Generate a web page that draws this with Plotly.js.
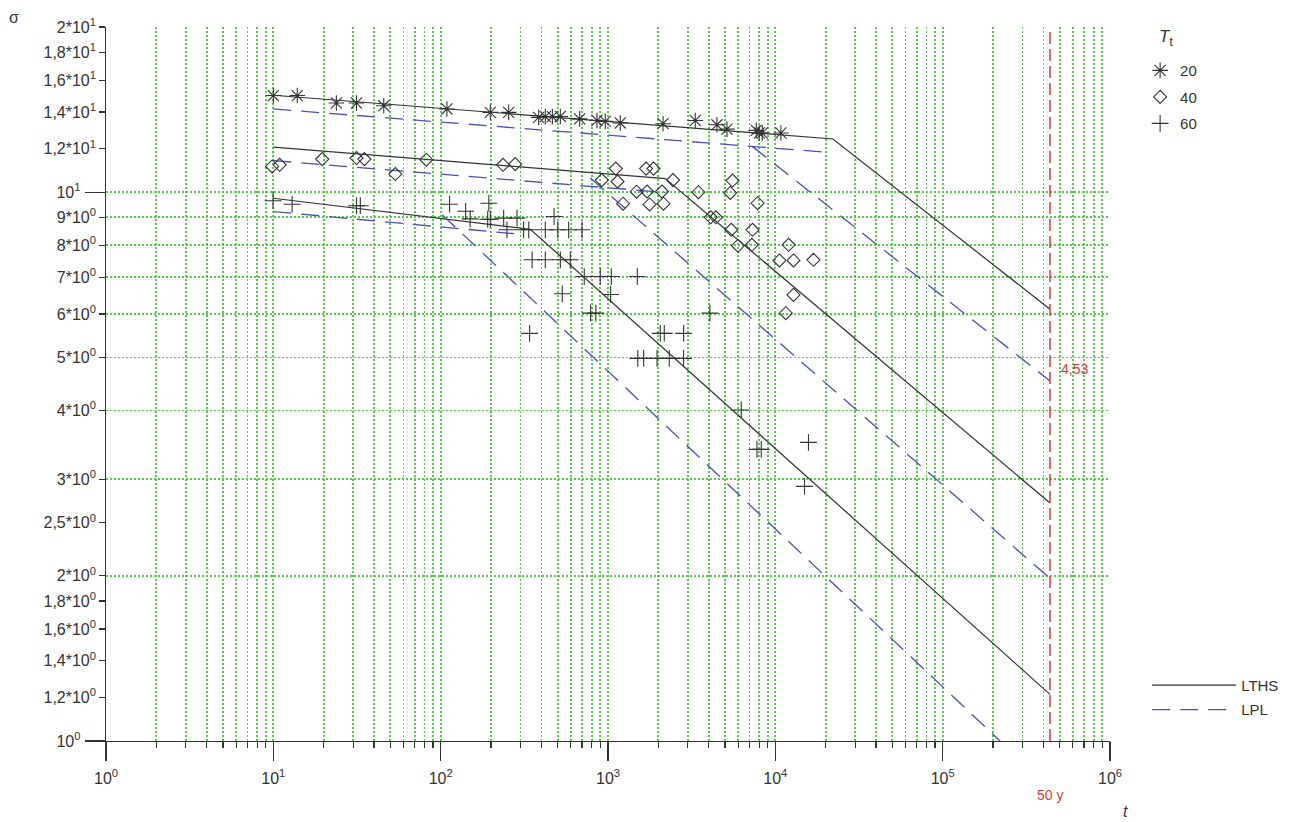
<!DOCTYPE html>
<html>
<head>
<meta charset="utf-8">
<script src="https://cdn.plot.ly/plotly-3.0.1.min.js"></script>
<style>
  html, body { margin: 0; padding: 0; background: #fff; }
  #chart { width: 1293px; height: 822px; }
</style>
</head>
<body>
<div id="chart"></div>
<script>
// ---- data (time t in h, stress sigma) ----
const t20 = [10, 13.9, 23.8, 31.4, 45.7, 109, 198, 255, 385, 422, 465, 519, 677, 859, 963, 1184, 2132, 3322, 4477, 5140, 7690, 8016, 8356, 10800];
const s20 = [15.0, 15.0, 14.54, 14.54, 14.37, 14.18, 13.98, 13.98, 13.69, 13.73, 13.73, 13.74, 13.6, 13.51, 13.46, 13.37, 13.33, 13.51, 13.27, 13.03, 12.96, 12.82, 12.82, 12.82];

const t40 = [9.84, 10.9, 19.6, 31.4, 35.0, 53.6, 82.1, 236, 279, 918, 1113, 1140, 1231, 1482, 1689, 1870, 1712, 2101, 1773, 2146, 2445, 3472, 5546, 5380, 7830, 4110, 4415, 5453, 7305, 5980, 7244, 12000, 10590, 12840, 16900, 12840, 11560];
const s40 = [11.14, 11.22, 11.49, 11.54, 11.49, 10.79, 11.46, 11.22, 11.25, 10.52, 11.04, 10.46, 9.53, 10.02, 11.04, 11.04, 10.03, 10.03, 9.50, 9.53, 10.52, 10.0, 10.50, 9.97, 9.55, 9.0, 9.0, 8.54, 8.54, 7.99, 8.02, 8.02, 7.51, 7.51, 7.53, 6.50, 6.02];

const t60 = [9.97, 12.95, 31.4, 33.1, 113, 194, 141, 150, 191, 198, 238, 286, 476, 249, 313, 336, 422, 501, 582, 700, 352, 422, 519, 595, 721, 899, 1047, 1497, 533, 1037, 787, 846, 4064, 340, 2053, 2169, 2830, 1507, 1633, 1963, 2323, 2830, 6256, 7766, 8238, 15780, 14940];
const s60 = [9.65, 9.51, 9.45, 9.45, 9.51, 9.55, 9.23, 8.94, 8.93, 8.93, 8.97, 8.97, 9.03, 8.54, 8.54, 8.54, 8.54, 8.54, 8.54, 8.54, 7.53, 7.53, 7.53, 7.53, 7.02, 7.02, 7.02, 7.02, 6.53, 6.51, 6.02, 6.02, 6.02, 5.53, 5.53, 5.53, 5.53, 4.98, 4.98, 4.98, 4.98, 4.98, 4.01, 3.40, 3.40, 3.50, 2.91];

// LTHS (solid) and LPL (dashed) lines
const fiftyYears = 438000;
const lths20_t = [10, 22080, fiftyYears],  lths20_s = [15.02, 12.50, 6.12];
const lths40_t = [10, 2199, fiftyYears],   lths40_s = [12.08, 10.59, 2.714];
const lths60_t = [10, 343.6, fiftyYears],  lths60_s = [9.75, 8.56, 1.216];
const lpl20a_t = [10, 21280],  lpl20a_s = [14.18, 11.81];
const lpl20b_t = [7280, fiftyYears], lpl20b_s = [12.12, 4.53];
const lpl40a_t = [10, 2199],   lpl40a_s = [11.42, 9.99];
const lpl40b_t = [784, fiftyYears],  lpl40b_s = [10.61, 1.978];
const lpl60a_t = [10, 290],    lpl60a_s = [9.22, 8.39];
const lpl60b_t = [102, 220400],    lpl60b_s = [9.1, 1.0];
const redLine_t = [fiftyYears, fiftyYears], redLine_s = [1, 20];
const lplAt50 = 4.53;

// tick labels
const xTickVals = [1, 10, 100, 1000, 10000, 100000, 1000000];
const xTickText = ['10<sup>0</sup>', '10<sup>1</sup>', '10<sup>2</sup>', '10<sup>3</sup>', '10<sup>4</sup>', '10<sup>5</sup>', '10<sup>6</sup>'];
const yMajorVals = [1, 10];
const yMajorText = ['10<sup>0</sup>', '10<sup>1</sup>'];
const yTickVals = [1.2, 1.4, 1.6, 1.8, 2, 2.5, 3, 4, 5, 6, 7, 8, 9, 12, 14, 16, 18, 20];
const yTickText = ['1,2*10<sup>0</sup>', '1,4*10<sup>0</sup>', '1,6*10<sup>0</sup>', '1,8*10<sup>0</sup>', '2*10<sup>0</sup>', '2,5*10<sup>0</sup>', '3*10<sup>0</sup>', '4*10<sup>0</sup>', '5*10<sup>0</sup>', '6*10<sup>0</sup>', '7*10<sup>0</sup>', '8*10<sup>0</sup>', '9*10<sup>0</sup>', '1,2*10<sup>1</sup>', '1,4*10<sup>1</sup>', '1,6*10<sup>1</sup>', '1,8*10<sup>1</sup>', '2*10<sup>1</sup>'];
const yGridVals = [2, 3, 4, 5, 6, 7, 8, 9, 10, 20];

// minor x ticks 2..9 of each decade
const xMinorVals = [];
for (let d = 0; d < 6; d++) for (let m = 2; m <= 9; m++) xMinorVals.push(m * Math.pow(10, d));

const GREEN = '#55cc4a';
const INK = '#333333';
const BLUE = '#4a50b4';
const RED = '#d43c3c';
const FONT = 'Liberation Sans, Arial, sans-serif';
const YRANGE = [0, Math.log10(20)];

function solid(t, s, show) {
  return {x: t, y: s, type: 'scatter', mode: 'lines', name: 'LTHS', legend: 'legend2',
    legendgroup: 'lths', showlegend: show, line: {color: INK, width: 1.2}, hoverinfo: 'skip'};
}
function dashed(t, s, show) {
  return {x: t, y: s, type: 'scatter', mode: 'lines', name: 'LPL', legend: 'legend2',
    legendgroup: 'lpl', showlegend: show, line: {color: BLUE, width: 1.3, dash: '18px,10px'}, hoverinfo: 'skip'};
}
function pts(t, s, name, symbol, size) {
  return {x: t, y: s, type: 'scatter', mode: 'markers', name: name, legendgroup: 'g' + name,
    marker: {symbol: symbol, size: size, color: INK, line: {color: INK, width: 1.1}}};
}
function ghost(axis) {
  return {x: [10], y: [10], yaxis: axis, type: 'scatter', mode: 'markers', showlegend: false,
    marker: {opacity: 0}, hoverinfo: 'skip'};
}

const traces = [
  solid(lths20_t, lths20_s, true), solid(lths40_t, lths40_s, false), solid(lths60_t, lths60_s, false),
  dashed(lpl20a_t, lpl20a_s, true), dashed(lpl20b_t, lpl20b_s, false),
  dashed(lpl40a_t, lpl40a_s, false), dashed(lpl40b_t, lpl40b_s, false),
  dashed(lpl60a_t, lpl60a_s, false), dashed(lpl60b_t, lpl60b_s, false),
  {x: redLine_t, y: redLine_s, type: 'scatter', mode: 'lines', showlegend: false,
   line: {color: RED, width: 1.5, dash: '12px,5px'}, hoverinfo: 'skip'},
  pts(t20, s20, '20', 'asterisk-open', 13),
  pts(t40, s40, '40', 'diamond-open', 10),
  pts(t60, s60, '60', 'cross-thin-open', 12),
  ghost('y2'), ghost('y3')
];

const gridCommon = {gridcolor: GREEN, gridwidth: 1.8, griddash: '2px,2px'};
const tickFont = {family: FONT, size: 16, color: INK};

const layout = {
  width: 1293, height: 822,
  margin: {l: 106, r: 183, t: 27, b: 81, pad: 0, autoexpand: false},
  paper_bgcolor: '#ffffff', plot_bgcolor: '#ffffff',
  font: {family: FONT, size: 15, color: INK},
  xaxis: Object.assign({
    type: 'log', range: [0, 6], tickmode: 'array', tickvals: xTickVals, ticktext: xTickText,
    ticks: 'outside', ticklen: 19, tickwidth: 1.2, tickcolor: INK, ticklabelstandoff: 3,
    showline: true, linecolor: INK, linewidth: 1.3, mirror: false, zeroline: false,
    showgrid: true,
    minor: Object.assign({tickmode: 'array', tickvals: xMinorVals, ticks: 'outside', ticklen: 6,
      tickwidth: 1.2, tickcolor: INK, showgrid: true}, gridCommon),
    tickfont: tickFont
  }, gridCommon),
  // main y: long ticks + labels at decades, short minor ticks at the other labelled values
  yaxis: {
    type: 'log', range: YRANGE, tickmode: 'array', tickvals: yMajorVals, ticktext: yMajorText,
    ticks: 'outside', ticklen: 20, tickwidth: 1.3, tickcolor: INK, ticklabelstandoff: 1,
    showline: true, linecolor: INK, linewidth: 1.3, mirror: false, zeroline: false, showgrid: false,
    minor: {tickmode: 'array', tickvals: yTickVals, ticks: 'outside', ticklen: 6, tickwidth: 1.2,
      tickcolor: INK, showgrid: false},
    tickfont: tickFont
  },
  // labels of the non-decade values
  yaxis2: {
    type: 'log', range: YRANGE, overlaying: 'y', side: 'left', anchor: 'x',
    tickmode: 'array', tickvals: yTickVals, ticktext: yTickText, showticklabels: true,
    ticks: '', ticklabelstandoff: 9, tickfont: tickFont,
    showline: false, zeroline: false, showgrid: false
  },
  // horizontal green grid
  yaxis3: Object.assign({
    type: 'log', range: YRANGE, overlaying: 'y', side: 'left', anchor: 'x',
    tickmode: 'array', tickvals: yGridVals, showticklabels: false, ticks: '',
    showline: false, zeroline: false, showgrid: true
  }, gridCommon),
  legend: {
    x: 1.03, y: 0.962, xanchor: 'left', yanchor: 'top',
    font: {family: FONT, size: 15, color: INK}, bgcolor: 'rgba(0,0,0,0)',
    tracegroupgap: 4, itemwidth: 30
  },
  legend2: {
    x: 1.037, y: 0.101, xanchor: 'left', yanchor: 'top',
    font: {family: FONT, size: 15, color: INK}, bgcolor: 'rgba(0,0,0,0)',
    tracegroupgap: 2, itemwidth: 84
  },
  annotations: [
    {text: '<i>T</i><sub>t</sub>', xref: 'paper', yref: 'paper', x: 1.047, y: 0.985,
     xanchor: 'left', yanchor: 'middle', showarrow: false,
     font: {family: FONT, size: 17, color: INK}},
    {text: 'σ', xref: 'paper', yref: 'paper', x: -0.0916, y: 1.014, xanchor: 'center', yanchor: 'middle',
     showarrow: false, font: {family: FONT, size: 16, color: INK}},
    {text: '<i>t</i>', xref: 'paper', yref: 'paper', x: 1.015, y: -0.0994, xanchor: 'center', yanchor: 'middle',
     showarrow: false, font: {family: FONT, size: 16, color: INK}},
    {text: '50 y', xref: 'x', yref: 'paper', x: Math.log10(fiftyYears), y: -0.0756,
     xanchor: 'center', yanchor: 'middle', showarrow: false,
     font: {family: FONT, size: 14, color: RED}},
    {text: String(lplAt50).replace('.', ','), xref: 'x', yref: 'y', x: Math.log10(fiftyYears),
     y: Math.log10(lplAt50), xanchor: 'left', yanchor: 'middle', xshift: 9, yshift: 12, showarrow: false,
     font: {family: FONT, size: 14, color: RED}}
  ],
  showlegend: true
};

Plotly.newPlot('chart', traces, layout, {displayModeBar: false, staticPlot: true});
</script>
</body>
</html>
